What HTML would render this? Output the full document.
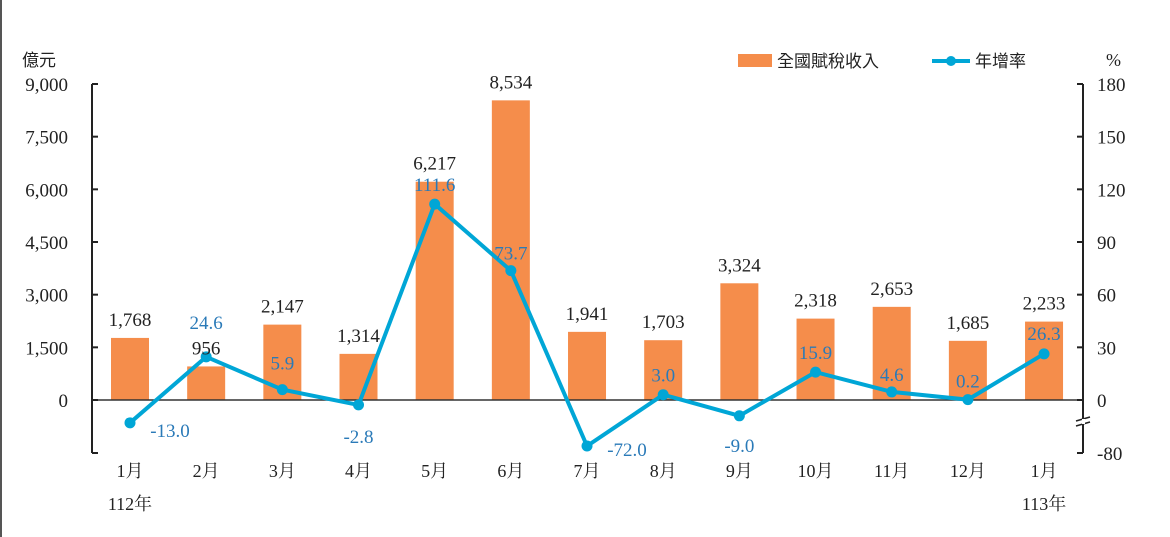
<!DOCTYPE html>
<html><head><meta charset="utf-8">
<style>
body{margin:0;background:#fff;}
svg{display:block;font-family:"Liberation Serif","Noto Serif CJK SC",serif;}
</style></head>
<body>
<svg id="chart" width="1170" height="537" viewBox="0 0 1170 537">
<line x1="1" y1="0" x2="1" y2="537" stroke="#555" stroke-width="2"/>
<text x="22" y="66" font-size="17" font-family="Noto Sans CJK TC, sans-serif" fill="#222">億元</text>
<text x="1106" y="66" font-size="18" fill="#222">%</text>
<g>
<rect x="738" y="54" width="34" height="13" fill="#f58d4b"/>
<text x="777" y="67" font-size="17" font-family="Noto Sans CJK TC, sans-serif" fill="#222">全國賦稅收入</text>
<line x1="932" y1="61" x2="970" y2="61" stroke="#00a6d6" stroke-width="4"/>
<circle cx="951" cy="61" r="5" fill="#00a6d6"/>
<text x="975" y="67" font-size="17" font-family="Noto Sans CJK TC, sans-serif" fill="#222">年增率</text>
</g>
<g id="plot"></g>
</svg>
<script>
const months=["1月","2月","3月","4月","5月","6月","7月","8月","9月","10月","11月","12月","1月"];
const years=["112年","","","","","","","","","","","","113年"];
const revenue=[1768,956,2147,1314,6217,8534,1941,1703,3324,2318,2653,1685,2233];
const growth=[-13.0,24.6,5.9,-2.8,111.6,73.7,-72.0,3.0,-9.0,15.9,4.6,0.2,26.3];
const leftTicks=[0,1500,3000,4500,6000,7500,9000];
const rightTicks=[-80,0,30,60,90,120,150,180];
// label placement offsets (dx,dy) relative to point
const gOff=[[40,7],[0,-35],[0,-27],[0,31],[0,-20],[0,-18],[40,3],[0,-20],[0,29],[0,-20],[0,-18],[0,-19],[0,-21]];
const NS="http://www.w3.org/2000/svg";
const g=document.getElementById('plot');
const X0=92,X1=1083,Y0=400,Ytop=84,Ybot=453;
const x=i=>130+i*76.17;
const yL=v=>Y0-v*(Y0-Ytop)/9000;
const yR=v=>{if(v>=0)return Y0-v*(Y0-Ytop)/180;const k=(Y0-Ytop)/180;if(v>=-20)return Y0-v*k;return Y0+20*k+(-v-20)*0.21;};
function el(t,a,name,txt){const e=document.createElementNS(NS,t);for(const k in a)e.setAttribute(k,a[k]);


if(txt!==undefined)e.textContent=txt;g.appendChild(e);return e;}
revenue.forEach((v,i)=>{el('rect',{x:x(i)-19,y:yL(v),width:38,height:Y0-yL(v),fill:'#f58d4b'},'bar-'+(i+1));});
el('line',{x1:X0,y1:Ytop,x2:X0,y2:Ybot,stroke:'#222','stroke-width':2},'left-axis');
el('line',{x1:X1,y1:Ytop,x2:X1,y2:Ybot,stroke:'#222','stroke-width':2},'right-axis');
el('line',{x1:X0,y1:Y0,x2:X1,y2:Y0,stroke:'#333','stroke-width':1.5},'zero-line');
el('line',{x1:X0,y1:Ybot,x2:X0+6,y2:Ybot,stroke:'#222','stroke-width':2},'left-axis-bottom-tick');
leftTicks.forEach(v=>{el('line',{x1:X0,y1:yL(v),x2:X0+6,y2:yL(v),stroke:'#222','stroke-width':2},'left-tick');
el('text',{x:68,y:yL(v)+7,'font-size':19,'text-anchor':'end',fill:'#222'},'left-tick-label',v.toLocaleString('en-US'));});
rightTicks.forEach(v=>{const yy=v===-80?Ybot:yR(v);el('line',{x1:X1-6,y1:yy,x2:X1,y2:yy,stroke:'#222','stroke-width':2},'right-tick');
el('text',{x:1097,y:yy+7,'font-size':19,fill:'#222'},'right-tick-label',String(v));});
el('path',{d:`M${X1-7} 421 L${X1+7} 417 M${X1-7} 426 L${X1+7} 422`,stroke:'#222','stroke-width':1.5,fill:'none'},'axis-break');
el('rect',{x:X1-1,y:419,width:3,height:5,fill:'#fff'},'axis-break-gap');
el('polyline',{points:growth.map((v,i)=>x(i)+','+yR(v)).join(' '),fill:'none',stroke:'#00a6d6','stroke-width':4},'growth-line');
growth.forEach((v,i)=>{el('circle',{cx:x(i),cy:yR(v),r:5.5,fill:'#00a6d6'},'growth-point-'+(i+1));});
revenue.forEach((v,i)=>{el('text',{x:x(i),y:yL(v)-12,'font-size':19,'text-anchor':'middle',fill:'#222'},'bar-value-label',v.toLocaleString('en-US'));});
growth.forEach((v,i)=>{el('text',{x:x(i)+gOff[i][0],y:yR(v)+gOff[i][1]+7,'font-size':19,'text-anchor':'middle',fill:'#2a7ab8'},'growth-value-label',v.toFixed(1));});
months.forEach((m,i)=>{el('text',{x:x(i),y:477,'font-size':18,'text-anchor':'middle',fill:'#222'},'x-month-label',m);
if(years[i])el('text',{x:x(i),y:510,'font-size':18,'text-anchor':'middle',fill:'#222'},'x-year-label',years[i]);});
</script>
</body></html>
